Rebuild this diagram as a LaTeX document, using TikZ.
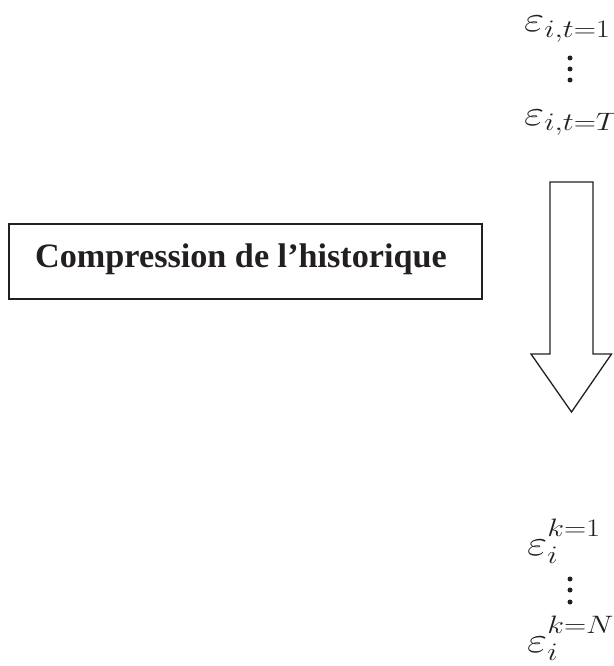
\RequirePackage{fix-cm}
\documentclass[tikz,border=0pt]{standalone}
\usepackage{graphicx}
\usepackage{fontspec}
\newfontfamily\boxfont{Liberation Serif}
\definecolor{ink}{HTML}{231F20}
\newcommand{\widemath}[1]{\scalebox{1.22}[1]{$#1$}}
\newcommand{\upsup}[1]{\raisebox{5pt}{$\scriptstyle #1$}}
\tikzset{
  mathlbl/.style={inner sep=0pt, anchor=base west, text=ink, font=\fontsize{36}{42}\selectfont},
  vdot/.style={circle, fill=ink, inner sep=0pt, minimum size=5pt},
  boxline/.style={draw=ink, line width=2pt},
  arrowline/.style={draw=ink, line width=1.3pt, line join=miter},
}
\begin{document}
\begin{tikzpicture}[x=1pt,y=-1pt]
\useasboundingbox (0,0) rectangle (613,666);
% top labels
\node[mathlbl] (e1) at (524,32) {\widemath{\varepsilon_{i,t=1}}};
\node[vdot] (d1) at (570,58) {};
\node[vdot] (d2) at (570,69) {};
\node[vdot] (d3) at (570,80) {};
\node[mathlbl] (eT) at (524,125) {\widemath{\varepsilon_{i,t=T}}};
% box
\draw[boxline] (9,224) rectangle (482,299);
\node[inner sep=0pt, anchor=base west, text=ink, font=\boxfont\bfseries\fontsize{34.2}{40}\selectfont] (lbl) at (35,267) {Compression de l’historique};
% arrow
\draw[arrowline] (550,182) -- (593,182) -- (593,354) -- (611.5,354) -- (571.5,412) -- (531,354) -- (550,354) -- cycle;
% bottom labels
\node[mathlbl] (k1) at (527,555) {\widemath{\varepsilon_i^{\upsup{k=1}}}};
\node[vdot] (d4) at (570,579) {};
\node[vdot] (d5) at (570,590) {};
\node[vdot] (d6) at (570,602) {};
\node[mathlbl] (kN) at (527,652) {\widemath{\varepsilon_i^{\upsup{k=N}}}};
\end{tikzpicture}
\end{document}
